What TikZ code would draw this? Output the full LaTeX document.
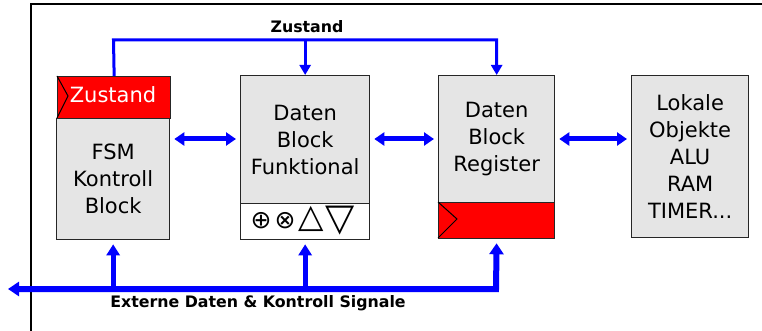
\documentclass[tikz,border=0pt]{standalone}
\usepackage{fontspec}
\setmainfont{DejaVu Sans}
\usetikzlibrary{arrows.meta}
\definecolor{boxgray}{RGB}{229,229,229}
\definecolor{busblue}{RGB}{0,0,255}
\tikzset{
  block/.style={draw=black!85, line width=1.3pt, fill=boxgray, anchor=north west,
    inner sep=0pt, align=center, font=\fontsize{21}{27}\selectfont},
  clockbox/.style={draw=black!85, line width=1.3pt, fill=red, anchor=north west, inner sep=0pt},
  opsbox/.style={draw=black!85, line width=1.3pt, fill=white, anchor=north west, inner sep=0pt},
  clk/.style={draw=black, line width=1pt},
  ctrl/.style={draw=busblue, line width=3pt, line join=miter, -{Triangle[length=10pt,width=11pt]}},
  link/.style={draw=busblue, line width=5pt,
    {Triangle[length=10pt,width=13pt]}-{Triangle[length=10pt,width=13pt]}},
  bus/.style={draw=busblue, line width=6pt, line join=miter,
    {Triangle[length=11pt,width=14pt]}-{Triangle[length=11pt,width=14pt]}, shorten >=4pt},
  up/.style={draw=busblue, line width=5pt, -{Triangle[length=11pt,width=13pt]}, shorten >=4pt},
  lbl/.style={font=\fontsize{15.8}{18}\selectfont\bfseries},
  sym/.style={inner sep=0pt, anchor=center}
}
\begin{document}
\begin{tikzpicture}[x=1pt,y=-1pt]
\useasboundingbox (0,0) rectangle (762,331);
% frame
\draw[line width=1.3pt] (762,4) -- (31,4) -- (31,331);

% FSM control block with its state register
\node[clockbox, minimum width=113pt, minimum height=42pt] (zst) at (57,76) {};
\node[text=white, font=\fontsize{21}{27}\selectfont] (zsttxt) at (113,95) {Zustand};
\draw[clk] (57,76) -- (68,96) -- (57,118);
\node[block, minimum width=113pt, minimum height=121pt] (fsm) at (56,118) {FSM\\Kontroll\\Block};

% functional data block
\node[block, minimum width=129pt, minimum height=128pt] (fun) at (240,75) {Daten\\Block\\Funktional};
\node[opsbox, minimum width=129pt, minimum height=36pt] (ops) at (240,203) {};
\node[sym, font=\fontsize{25}{25}\selectfont] (oplus) at (261,221) {⊕};
\node[sym, font=\fontsize{25}{25}\selectfont] (otimes) at (285,221) {⊗};
\node[sym, font=\fontsize{33}{33}\selectfont] (tup) at (311,219) {△};
\node[sym, font=\fontsize{38}{38}\selectfont] (tdn) at (340,221) {▽};

% register data block
\node[block, minimum width=116pt, minimum height=127pt] (reg) at (438,75) {Daten\\Block\\Register};
\node[clockbox, minimum width=116pt, minimum height=36pt] (regclk) at (438,202) {};
\draw[clk] (438,202) -- (457,219) -- (438,238);

% local objects
\node[block, minimum width=117pt, minimum height=162pt] (lok) at (631,75) {Lokale\\Objekte\\ALU\\RAM\\TIMER...};

% state feedback
\coordinate (ztop) at (113.5,40);
\draw[ctrl] (zst.north) -- (ztop) -| (reg.north);
\draw[ctrl] (fun.north |- ztop) -- (fun.north);
\node[lbl] (zlbl) at (307,27) {Zustand};

% data links between blocks
\draw[link] ([xshift=4pt]fsm.east |- 0,139) -- ([xshift=-4pt]fun.west |- 0,139);
\draw[link] ([xshift=4pt]fun.east |- 0,139) -- ([xshift=-4pt]reg.west |- 0,139);
\draw[link] ([xshift=4pt]reg.east |- 0,139) -- ([xshift=-4pt]lok.west |- 0,139);

% external bus
\coordinate (busL) at (8,289);
\coordinate (busR) at (496,289);
\draw[bus] (busL) -- (busR) -- (regclk.south);
\draw[up] (fsm.south |- busL) -- (fsm.south);
\draw[up] (ops.south |- busL) -- (ops.south);
\node[lbl] (blbl) at (258,303) {Externe Daten \& Kontroll Signale};
\end{tikzpicture}
\end{document}
